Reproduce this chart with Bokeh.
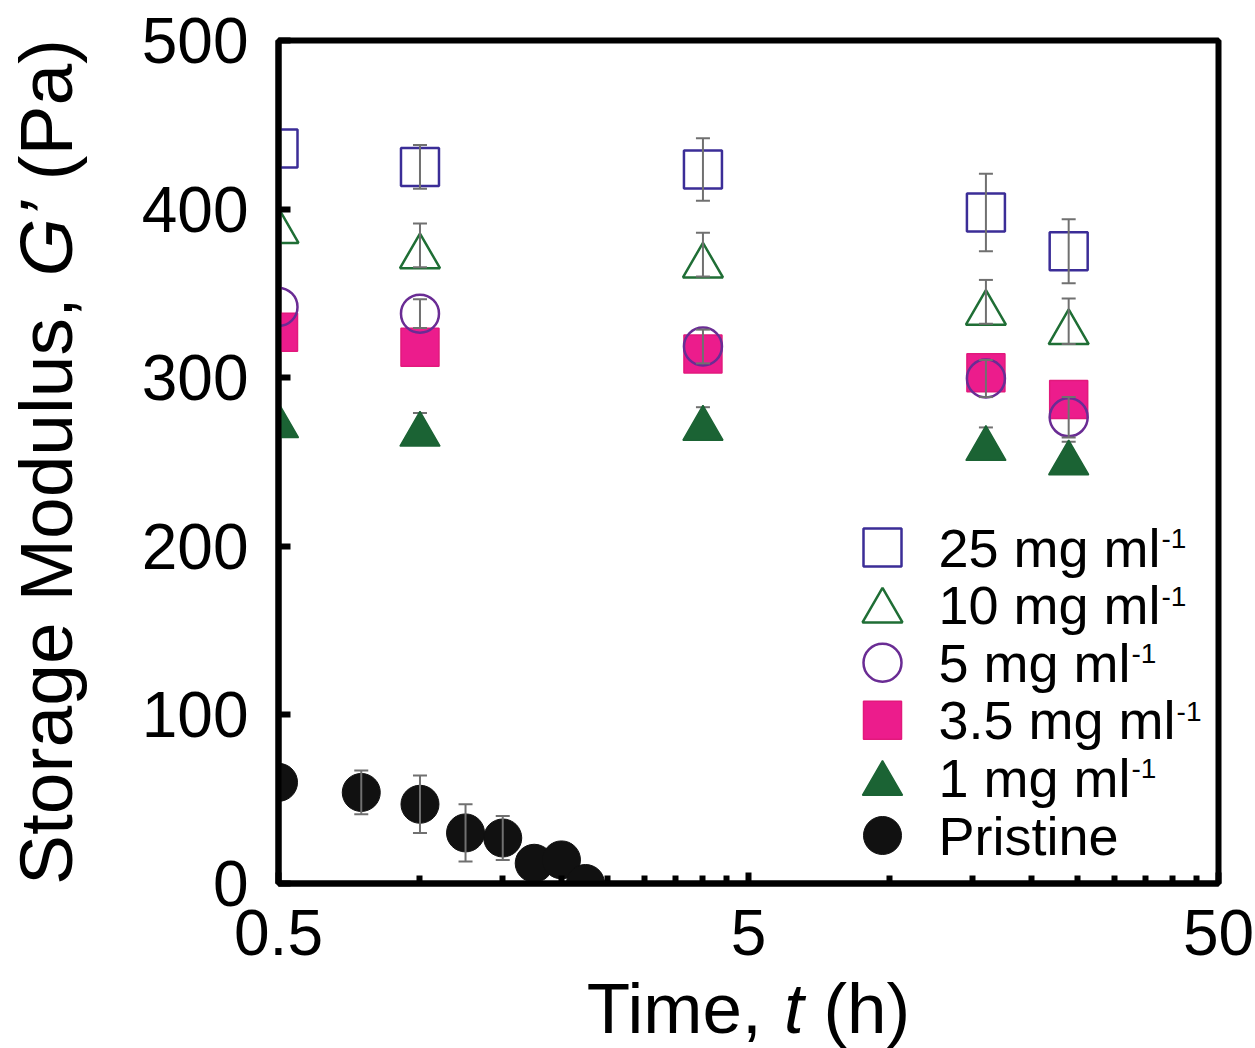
import math
from bokeh.plotting import figure
from bokeh.layouts import row, column
from bokeh.models import (ColumnDataSource, Whisker, TeeHead, FixedTicker,
                          CustomJSTickFormatter, Range1d)
from bokeh.transform import dodge
from bokeh.core.properties import value
from bokeh.embed import file_html
from bokeh.resources import INLINE

# ---------------- data ----------------
time_h = [0.5, 1.0, 4.0, 16.0, 24.0]
g_25mg = [436, 425, 423.5, 398, 375]
err_25mg = [0, 13, 18.5, 23, 19]
g_10mg = [393.5, 378.5, 373, 345, 333.5]
err_10mg = [0, 13, 13, 13, 13.5]
g_5mg = [342, 338, 318.5, 299.5, 276.5]
err_5mg = [0, 8.5, 10, 11, 12]
g_3p5mg = [327, 318, 314, 303, 287]
g_1mg = [278, 273, 276.5, 264.5, 256]
err_1mg = [0, 6, 6, 6, 6]
time_pristine = [0.5, 0.75, 1.0, 1.25, 1.5, 1.75, 2.0, 2.25]
g_pristine = [60, 54, 47, 30, 27, 12, 14, 0]
err_pristine = [0, 13, 17, 17, 13, 0, 0, 0]

legend_text = ["25 mg ml", "10 mg ml", "5 mg ml", "3.5 mg ml", "1 mg ml", "Pristine"]
legend_sup = ["-1", "-1", "-1", "-1", "-1", ""]
x_major = [0.5, 5, 50]
x_minor = [1, 1.5, 2, 2.5, 3, 3.5, 4, 4.5, 10, 15, 20, 25, 30, 35, 40, 45]
y_major = [0, 100, 200, 300, 400, 500]
x_title = [("Time,", "normal"), ("t", "italic"), ("(h)", "normal")]
y_title = [("Storage Modulus,", "normal"), ("G\u2019", "italic"), ("(Pa)", "normal")]

# ---------------- layout / style ----------------
TOTAL_W, TOTAL_H = 1255, 1048
LEFT_W = 100                       # strip holding the y title
FW, FH = 940, 843
BL, BR, BT, BB = 178, 37, 40, 98   # borders of the main figure
MAIN_W = BL + FW + BR
MAIN_H = BT + FH + BB
BOT_H = TOTAL_H - MAIN_H           # strip holding the x title
X0, X1, Y0, Y1 = 0.5, 50, 0, 500
FONT = "Liberation Sans"
C25, C10, C5, C35, C1, CP = "#3b2d97", "#1f6e35", "#6a2c94", "#ec1c8c", "#1b6334", "#111111"
BAR = "#707070"
S_SQ, S_TRI, S_CIR = 38, 40, 38
TRI_OFF = 0.1443 * S_TRI          # bokeh triangle bbox centre sits above its anchor

# Arial/Liberation Sans advance widths (1/1000 em)
W = {' ': 278, ',': 278, '\u2019': 222, '(': 333, ')': 333, '-': 333, '.': 278,
     'G': 778, 'M': 833, 'P': 667, 'S': 667, 'T': 611, 'a': 556, 'd': 556, 'e': 556,
     'g': 556, 'h': 556, 'i': 222, 'l': 222, 'm': 833, 'n': 556, 'o': 556, 'r': 333,
     's': 500, 't': 278, 'u': 556}
for dgt in "0123456789":
    W[dgt] = 556


def tw(s, size):
    return sum(W.get(c, 556) for c in s) / 1000.0 * size


def fx(px):   # frame-relative px -> data x (log)
    return 10 ** (math.log10(X0) + px / FW * (math.log10(X1) - math.log10(X0)))


def fy(py):   # frame-relative px from top -> data y
    return Y1 - py / FH * (Y1 - Y0)


PX_PER_Y = FH / (Y1 - Y0)

p = figure(frame_width=FW, frame_height=FH, x_axis_type="log",
           x_range=Range1d(X0, X1), y_range=Range1d(Y0, Y1),
           output_backend="svg", toolbar_location=None,
           min_border_left=BL, min_border_right=BR, min_border_top=BT, min_border_bottom=BB,
           background_fill_color="white", border_fill_color="white")
p.xgrid.visible = False
p.ygrid.visible = False
p.outline_line_color = "black"
p.outline_line_width = 6

xa, ya = p.xaxis[0], p.yaxis[0]
xa.ticker = FixedTicker(ticks=x_major, minor_ticks=x_minor)
ya.ticker = FixedTicker(ticks=y_major, minor_ticks=[])
for ax in (xa, ya):
    ax.formatter = CustomJSTickFormatter(code="return String(tick)")
    ax.axis_line_color = "black"
    ax.axis_line_width = 6
    ax.major_tick_line_color = "black"
    ax.minor_tick_line_color = "black"
    ax.major_tick_line_width = 6
    ax.minor_tick_line_width = 6
    ax.major_tick_out = 0
    ax.minor_tick_out = 0
    ax.major_label_text_font = FONT
    ax.major_label_text_font_size = "64px"
    ax.major_label_text_color = "black"
xa.major_tick_in = 11
xa.minor_tick_in = 8
ya.major_tick_in = 12
xa.major_label_standoff = 26
ya.major_label_standoff = 30


def add_whiskers(xs, ys, es, level):
    idx = [i for i, e in enumerate(es) if e > 0]
    src = ColumnDataSource(dict(x=[xs[i] for i in idx],
                                lo=[ys[i] - es[i] for i in idx],
                                hi=[ys[i] + es[i] for i in idx]))
    w = Whisker(base="x", lower="lo", upper="hi", source=src, dimension="height",
                level=level, line_color=BAR, line_width=2,
                upper_head=TeeHead(size=14, line_color=BAR, line_width=2),
                lower_head=TeeHead(size=14, line_color=BAR, line_width=2))
    p.add_layout(w)


src = ColumnDataSource(dict(t=time_h, g25=g_25mg, g10=g_10mg, g5=g_5mg,
                            g35=g_3p5mg, g1=g_1mg))
tri_shift = -(5.5 + TRI_OFF) / PX_PER_Y

add_whiskers(time_h, g_1mg, err_1mg, "underlay")
p.scatter("t", dodge("g1", tri_shift), source=src, marker="triangle", size=S_TRI,
          fill_color=C1, line_color=C1, line_width=1.5)
p.scatter("t", "g35", source=src, marker="square", size=S_SQ,
          fill_color=C35, line_color="#e2197c", line_width=1.5)
p.scatter("t", "g5", source=src, marker="circle", size=S_CIR,
          fill_color=None, line_color=C5, line_width=2.5)
p.scatter("t", dodge("g10", tri_shift), source=src, marker="triangle", size=S_TRI,
          fill_color=None, line_color=C10, line_width=2.5)
p.scatter("t", "g25", source=src, marker="square", size=S_SQ,
          fill_color=None, line_color=C25, line_width=2.5)
add_whiskers(time_h, g_25mg, err_25mg, "annotation")
add_whiskers(time_h, g_10mg, err_10mg, "annotation")
add_whiskers(time_h, g_5mg, err_5mg, "annotation")

psrc = ColumnDataSource(dict(t=time_pristine, g=g_pristine))
p.scatter("t", "g", source=psrc, marker="circle", size=S_CIR,
          fill_color=CP, line_color=CP, line_width=1)
add_whiskers(time_pristine, g_pristine, err_pristine, "annotation")

# ---------------- legend (drawn inside the frame) ----------------
LEG_MX, LEG_TX, LEG_Y0, LEG_DY = 604, 660, 507, 57.6
LEG_FS, SUP_FS = 54, 28
leg_styles = [
    dict(marker="square", size=S_SQ, fill_color=None, line_color=C25, line_width=2.5),
    dict(marker="triangle", size=S_TRI, fill_color=None, line_color=C10, line_width=2.5),
    dict(marker="circle", size=S_CIR, fill_color=None, line_color=C5, line_width=2.5),
    dict(marker="square", size=S_SQ, fill_color=C35, line_color="#e2197c", line_width=1.5),
    dict(marker="triangle", size=S_TRI, fill_color=C1, line_color=C1, line_width=1.5),
    dict(marker="circle", size=S_CIR, fill_color=CP, line_color=CP, line_width=1),
]
for i, st in enumerate(leg_styles):
    rowy = LEG_Y0 + i * LEG_DY
    off = TRI_OFF if st["marker"] == "triangle" else 0
    p.scatter([fx(LEG_MX)], [fy(rowy + off)], **st)

p.text([fx(LEG_TX)] * len(legend_text),
       [fy(LEG_Y0 + i * LEG_DY) for i in range(len(legend_text))],
       text=legend_text, text_font=value(FONT), text_font_size=f"{LEG_FS}px",
       text_baseline="middle", text_align="left", text_color="black")
sup_idx = [i for i, s in enumerate(legend_sup) if s]
p.text([fx(LEG_TX + tw(legend_text[i], LEG_FS) + 1) for i in sup_idx],
       [fy(LEG_Y0 + i * LEG_DY - 9) for i in sup_idx],
       text=[legend_sup[i] for i in sup_idx], text_font=value(FONT),
       text_font_size=f"{SUP_FS}px", text_baseline="middle", text_align="left",
       text_color="black")


# ---------------- axis titles (mixed upright / italic) in side strips ----------------
def strip(w, h, x_lo, x_hi, **borders):
    f = figure(width=w, height=h, x_range=Range1d(x_lo, x_hi), y_range=Range1d(h, 0),
               x_axis_location=None, y_axis_location=None, toolbar_location=None,
               output_backend="svg", outline_line_color=None,
               background_fill_color="white", border_fill_color="white", **borders)
    f.grid.visible = False
    return f


XT_FS, YT_FS = 71, 75

# left strip: data units = px (x from strip left, y from top)
left = strip(LEFT_W, TOTAL_H, 0, LEFT_W, min_border=0)
sp = tw(" ", YT_FS)
total = sum(tw(s, YT_FS) for s, _ in y_title) + sp * (len(y_title) - 1)
cy = BT + FH / 2 + total / 2
for s, style in y_title:
    left.text([45], [cy], text=[s], angle=math.pi / 2, text_font=value(FONT),
              text_font_size=f"{YT_FS}px", text_font_style=style,
              text_align="left", text_baseline="middle", text_color="black")
    cy -= tw(s, YT_FS) + sp

# bottom strip: its frame lines up with the main frame; x data = px from main figure's left
bottom = strip(MAIN_W, BOT_H, BL, BL + FW, min_border_left=BL, min_border_right=BR,
               min_border_top=0, min_border_bottom=0)
sp = tw(" ", XT_FS)
total = sum(tw(s, XT_FS) for s, _ in x_title) + sp * (len(x_title) - 1)
cx = BL + FW / 2 - total / 2
for s, style in x_title:
    bottom.text([cx], [1008 - MAIN_H], text=[s], text_font=value(FONT),
                text_font_size=f"{XT_FS}px", text_font_style=style,
                text_align="left", text_baseline="middle", text_color="black")
    cx += tw(s, XT_FS) + sp

layout = row(left, column(p, bottom, spacing=0), spacing=0)
open("out.html", "w").write(file_html(layout, INLINE))
